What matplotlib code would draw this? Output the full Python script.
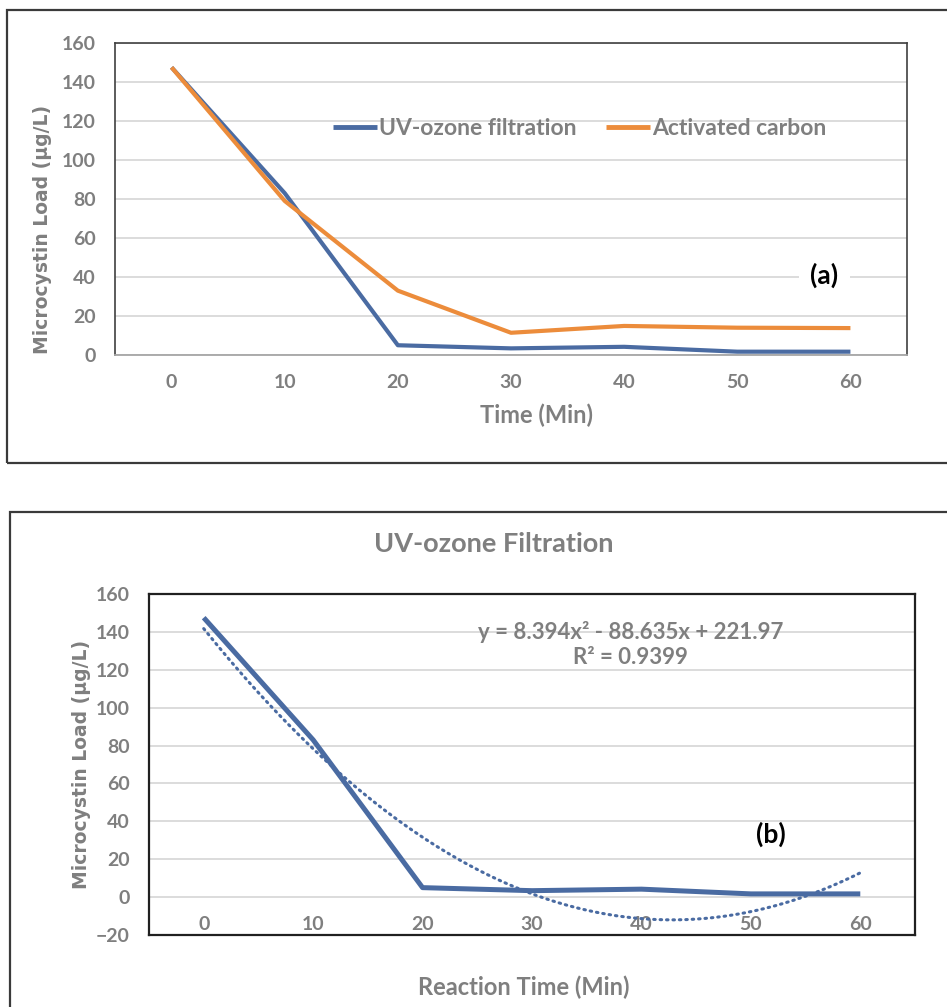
import matplotlib
matplotlib.use("Agg")
import matplotlib.pyplot as plt
from matplotlib.patches import Rectangle
import numpy as np

# ---- data ----
time_labels = ["0", "10", "20", "30", "40", "50", "60"]
uv_ozone = [147.5, 83, 5, 3.4, 4.2, 1.7, 1.7]
activated_carbon = [147.5, 79, 33, 11.4, 14.9, 14.0, 13.8]
# displayed polynomial trendline (x = point index 1..7)
trend_coef = [8.394, -88.635, 221.97]
yticks_a = [0, 20, 40, 60, 80, 100, 120, 140, 160]
yticks_b = [-20, 0, 20, 40, 60, 80, 100, 120, 140, 160]

BLUE = "#4A6BA2"
ORANGE = "#EC8C3B"
GRAY = "#7F7F7F"
GRID = "#D9D9D9"
FONT = ["Lato", "DejaVu Sans"]

W, H = 947, 1007
fig = plt.figure(figsize=(W / 100, H / 100), dpi=100)
fig.patch.set_facecolor("white")

# outer panel boxes
def px_rect(x0, y0, x1, y1, lw):
    fig.patches.append(Rectangle((x0 / W, 1 - y1 / H), (x1 - x0) / W, (y1 - y0) / H,
                                 transform=fig.transFigure, fill=False,
                                 edgecolor="#3A3A3A", linewidth=lw, zorder=0))
px_rect(7, 10, 980, 463, 1.6)
px_rect(10, 512, 980, 1040, 1.6)

xpos = np.arange(len(time_labels))

# ---------------- panel (a) ----------------
ax1 = fig.add_axes([115 / W, 1 - 355 / H, 792 / W, 312 / H])
ax1.set_xlim(-0.5, len(time_labels) - 0.5)
ax1.set_ylim(0, 160)
ax1.set_yticks(yticks_a)
ax1.yaxis.grid(True, color=GRID, linewidth=1.3)
ax1.set_axisbelow(True)
for s in ["top", "right", "left"]:
    ax1.spines[s].set_color("#404040")
    ax1.spines[s].set_linewidth(1.2)
ax1.spines["bottom"].set_color("#A6A6A6")
ax1.spines["bottom"].set_linewidth(1.3)
ax1.plot(xpos, uv_ozone, color=BLUE, lw=3.0, label="UV-ozone filtration", solid_capstyle="butt")
ax1.plot(xpos, activated_carbon, color=ORANGE, lw=3.0, label="Activated carbon", solid_capstyle="butt")
ax1.set_xticks(xpos)
ax1.set_xticklabels(time_labels)
ax1.tick_params(axis="both", length=0, labelcolor=GRAY, labelsize=14)
ax1.tick_params(axis="x", pad=14)
ax1.tick_params(axis="y", pad=14)
for lab in ax1.get_xticklabels() + ax1.get_yticklabels():
    lab.set_family(FONT)
    lab.set_fontweight("bold")
ax1.set_xlabel("Time (Min)", fontsize=17, color=GRAY, fontweight="bold", family=FONT)
ax1.xaxis.set_label_coords((536 - 115) / 792, (355 - 404) / 312)
ax1.set_ylabel("Microcystin Load (µg/L)", fontsize=13.5, color=GRAY, fontweight="bold",
               family="DejaVu Sans")
ax1.yaxis.set_label_coords((52 - 115) / 792, (355 - 229) / 312)
leg = ax1.legend(loc="center", bbox_to_anchor=(0.587, 0.727), ncol=2, frameon=False,
                 prop={"family": FONT, "weight": "bold", "size": 16.5},
                 handlelength=1.9, handletextpad=0.1, columnspacing=1.3)
for t in leg.get_texts():
    t.set_color(GRAY)
for h in leg.get_lines():
    h.set_linewidth(3.5)
ax1.text(5.77, 41, "(a)", fontsize=19, fontweight="bold", family=FONT, color="black",
         ha="center", va="center",
         bbox=dict(facecolor="white", edgecolor="none", pad=8))

# ---------------- panel (b) ----------------
ax2 = fig.add_axes([149 / W, 1 - 935 / H, 766 / W, 341 / H])
ax2.set_xlim(-0.5, len(time_labels) - 0.5)
ax2.set_ylim(-20, 160)
ax2.set_yticks(yticks_b)
ax2.yaxis.grid(True, color=GRID, linewidth=1.3)
ax2.set_axisbelow(True)
for s in ax2.spines.values():
    s.set_color("#202020")
    s.set_linewidth(1.6)
ax2.plot(xpos, uv_ozone, color=BLUE, lw=3.6, solid_capstyle="butt")
xs = np.linspace(1, len(time_labels), 200)
ys = np.polyval(trend_coef, xs)
ax2.plot(xs - 1, ys, color=BLUE, lw=2.2, linestyle=(0, (0.5, 1.6)), dash_capstyle="round")
ax2.set_xticks(xpos)
ax2.set_xticklabels(time_labels)
ax2.tick_params(axis="both", length=0, labelcolor=GRAY, labelsize=14)
ax2.tick_params(axis="x", pad=-14)
ax2.tick_params(axis="y", pad=14)
for lab in ax2.get_xticklabels() + ax2.get_yticklabels():
    lab.set_family(FONT)
    lab.set_fontweight("bold")
ax2.set_xlabel("Reaction Time (Min)", fontsize=17, color=GRAY, fontweight="bold", family=FONT)
ax2.xaxis.set_label_coords((524 - 149) / 766, (935 - 976) / 341)
ax2.set_ylabel("Microcystin Load (µg/L)", fontsize=13.5, color=GRAY, fontweight="bold",
               family="DejaVu Sans")
ax2.yaxis.set_label_coords((91 - 149) / 766, (935 - 764) / 341)
ax2.set_title("UV-ozone Filtration", fontsize=19.5, color=GRAY, fontweight="bold", family=FONT,
              x=(494 - 149) / 766, pad=30)
ax2.text(3.9, 140, "y = 8.394x² - 88.635x + 221.97", fontsize=16, color=GRAY, fontweight="bold",
         family=FONT, ha="center", va="center")
ax2.text(3.9, 126.5, "R² = 0.9399", fontsize=16, color=GRAY, fontweight="bold",
         family=FONT, ha="center", va="center")
ax2.text(5.18, 33, "(b)", fontsize=19, fontweight="bold", family=FONT, color="black",
         ha="center", va="center")

fig.savefig("out.png", dpi=100, facecolor="white")
